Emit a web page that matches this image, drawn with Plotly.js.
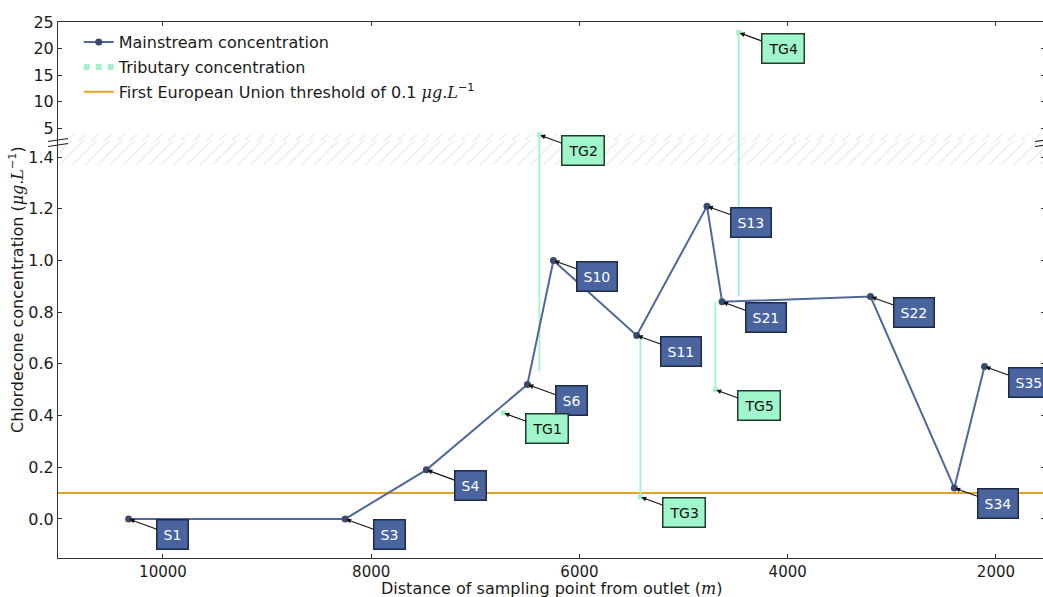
<!DOCTYPE html>
<html><head><meta charset="utf-8">
<script src="https://cdn.plot.ly/plotly-3.0.1.min.js"></script>
<style>html,body{margin:0;padding:0;overflow:hidden;background:#fff}#chart{width:1050px;height:597px}</style>
</head><body><div id="chart"></div>
<script>
// ---- data ----
const mainLabels = ['S1','S3','S4','S6','S10','S11','S13','S21','S22','S34','S35'];
const mainDist   = [10330, 8250, 7470, 6500, 6250, 5450, 4775, 4630, 3205, 2400, 2110];
const mainConc   = [0.0, 0.0, 0.19, 0.52, 1.0, 0.71, 1.21, 0.84, 0.86, 0.12, 0.59];

const tribLabels = ['TG1','TG2','TG3','TG4','TG5'];
const tribDist   = [6730, 6385, 5415, 4470, 4695];
const tribConc   = [0.41, 3.7, 0.085, 23.0, 0.5];
const tribJoin   = [null, 0.57, 0.71, 0.86, 0.84];   // level where each tributary line ends

const threshold  = 0.1;

const xTicks    = [10000, 8000, 6000, 4000, 2000];
const lowTicks  = [0.0, 0.2, 0.4, 0.6, 0.8, 1.0, 1.2, 1.4];
const highTicks = [5, 10, 15, 20, 25];

// ---- axes setup ----
const X_RANGE = [11008, 1529];
const LOW_RANGE = [-0.151, 1.462];
const HIGH_RANGE = [2.55, 25];
const SPLIT = 0.778;
const BAND_LOW = 1.37, BAND_HIGH = 3.9;

const FONT = 'DejaVu Sans';
const TXT = '#1a1a1a';
const MAIN_LINE = '#50679a', MAIN_MARK = '#3a4a6e', MAIN_BOX = '#4a64a0';
const TRIB = '#a4f2ca', TRIB_BOX = '#a0f5cb';
const THR = '#e0a228';

function inLow(v){ return v <= LOW_RANGE[1]; }

const traces = [];
// hatched break band
const hatch = {shape:'/', fgcolor:'#e6e6e6', bgcolor:'white', size:9, solidity:0.12};
traces.push({x:[X_RANGE[0],X_RANGE[1],X_RANGE[1],X_RANGE[0]], y:[BAND_LOW,BAND_LOW,LOW_RANGE[1],LOW_RANGE[1]],
  xaxis:'x', yaxis:'y', mode:'lines', line:{width:0}, fill:'toself', fillcolor:'rgba(0,0,0,0)',
  fillpattern:hatch, hoverinfo:'skip', showlegend:false});
traces.push({x:[X_RANGE[0],X_RANGE[1],X_RANGE[1],X_RANGE[0]], y:[HIGH_RANGE[0],HIGH_RANGE[0],BAND_HIGH,BAND_HIGH],
  xaxis:'x2', yaxis:'y2', mode:'lines', line:{width:0}, fill:'toself', fillcolor:'rgba(0,0,0,0)',
  fillpattern:hatch, hoverinfo:'skip', showlegend:false});

// tributary vertical segments
const segX = [], segY = [];
tribDist.forEach((d,i)=>{ if(tribJoin[i]!==null){ segX.push(d,d,null); segY.push(tribJoin[i], tribConc[i], null);} });
['y','y2'].forEach((ya,k)=>{
  traces.push({x:segX, y:segY, xaxis:k?'x2':'x', yaxis:ya, mode:'lines', connectgaps:false,
    line:{color:TRIB, width:1.8}, hoverinfo:'skip', showlegend:false});
});

// mainstream
traces.push({x:mainDist, y:mainConc, xaxis:'x', yaxis:'y', mode:'lines+markers', name:'Mainstream concentration',
  line:{color:MAIN_LINE, width:2}, marker:{color:MAIN_MARK, size:7, symbol:'circle'},
  legendrank:1, legendgroup:'a'});

// tributary points (split between lower and upper axis)
const tLowX=[], tLowY=[], tHighX=[], tHighY=[];
tribDist.forEach((d,i)=>{
  if(inLow(tribConc[i])){ tLowX.push(d,null); tLowY.push(tribConc[i],null); }
  else { tHighX.push(d,null); tHighY.push(tribConc[i],null); }
});
traces.push({x:tLowX, y:tLowY, xaxis:'x', yaxis:'y', mode:'lines+markers', connectgaps:false,
  name:'Tributary concentration', line:{color:TRIB, width:6, dash:'dot'},
  marker:{color:TRIB, size:5, symbol:'square'}, legendrank:2, legendgroup:'b'});
traces.push({x:tHighX, y:tHighY, xaxis:'x2', yaxis:'y2', mode:'markers', showlegend:false,
  marker:{color:TRIB, size:5, symbol:'square'}});

// annotations
const annotations = [];
function label(x, y, txt, isMain){
  const hi = !inLow(y);
  annotations.push({x:x, y:y, xref:hi?'x2':'x', yref:hi?'y2':'y', text:txt, showarrow:true,
    ax:44, ay:16, arrowhead:2, arrowsize:0.9, arrowwidth:1.1, arrowcolor:'#111', standoff:1,
    bgcolor:isMain?MAIN_BOX:TRIB_BOX, bordercolor:isMain?'#1e2b48':'#1f3d2c', borderwidth:1.5, borderpad:6,
    font:{family:FONT, size:14, color:isMain?'#ffffff':'#111111'}});
}
mainLabels.forEach((l,i)=>label(mainDist[i], mainConc[i], l, true));
tribLabels.forEach((l,i)=>label(tribDist[i], tribConc[i], l, false));

// y title across full height
annotations.push({xref:'paper', yref:'paper', x:0, y:0.5, xshift:-42, textangle:-90, showarrow:false,
  xanchor:'center', yanchor:'middle',
  text:'Chlordecone concentration (<span style="font-family:DejaVu Serif"><i>μg.L</i></span><sup>−1</sup>)',
  font:{family:FONT, size:16, color:TXT}});
// x title
annotations.push({xref:'paper', yref:'paper', x:0.5, y:0, yshift:-30, showarrow:false,
  xanchor:'center', yanchor:'middle',
  text:'Distance of sampling point from outlet (<span style="font-family:DejaVu Serif"><i>m</i></span>)',
  font:{family:FONT, size:16, color:TXT}});

// break marks
const shapes = [];
const PW = 987, PH = 536;
[140,145].forEach(py=>{
  const yc = (558-py)/PH;
  [0,1].forEach(xp=>{
    shapes.push({type:'line', xref:'paper', yref:'paper', x0:xp-10/PW, x1:xp+10/PW,
      y0:yc-1.5/PH, y1:yc+1.5/PH, line:{color:'#222', width:1.2}});
  });
});
// threshold line
shapes.push({type:'line', xref:'paper', x0:0, x1:1, yref:'y', y0:threshold, y1:threshold, layer:'below',
  line:{color:THR, width:2}, showlegend:true, legendrank:3, legendgroup:'c',
  name:'First European Union threshold of 0.1 <span style="font-family:DejaVu Serif"><i>μg.L</i></span><sup>−1</sup>'});

const axBase = {showgrid:false, zeroline:false, showline:true, linecolor:'#333', linewidth:1,
  ticks:'inside', ticklen:4, tickcolor:'#333', tickfont:{family:FONT, size:16, color:TXT}};

const layout = {
  width:1050, height:597,
  margin:{l:58, r:5, t:22, b:39},
  paper_bgcolor:'white', plot_bgcolor:'white',
  font:{family:FONT, size:16, color:TXT},
  showlegend:true,
  legend:{x:0.021, y:0.994, xanchor:'left', yanchor:'top', bgcolor:'rgba(255,255,255,0)', borderwidth:0,
    font:{family:FONT, size:16, color:TXT}, traceorder:'grouped', tracegroupgap:1, itemwidth:30},
  xaxis:Object.assign({}, axBase, {anchor:'y', range:X_RANGE, tickvals:xTicks, ticktext:xTicks.map(String),
    tickfont:{family:FONT, size:15, color:TXT}}),
  xaxis2:Object.assign({}, axBase, {anchor:'y2', matches:'x', range:X_RANGE, side:'top', tickvals:xTicks,
    showticklabels:false}),
  yaxis:Object.assign({}, axBase, {anchor:'x', domain:[0, SPLIT], range:LOW_RANGE, tickvals:lowTicks,
    ticktext:lowTicks.map(v=>v.toFixed(1)), mirror:'ticks'}),
  yaxis2:Object.assign({}, axBase, {anchor:'x2', domain:[SPLIT, 1], range:HIGH_RANGE, tickvals:highTicks,
    ticktext:highTicks.map(String), mirror:'ticks'}),
  annotations:annotations,
  shapes:shapes,
  hovermode:false
};

Plotly.newPlot('chart', traces, layout, {staticPlot:true, displayModeBar:false});
</script>
</body></html>
